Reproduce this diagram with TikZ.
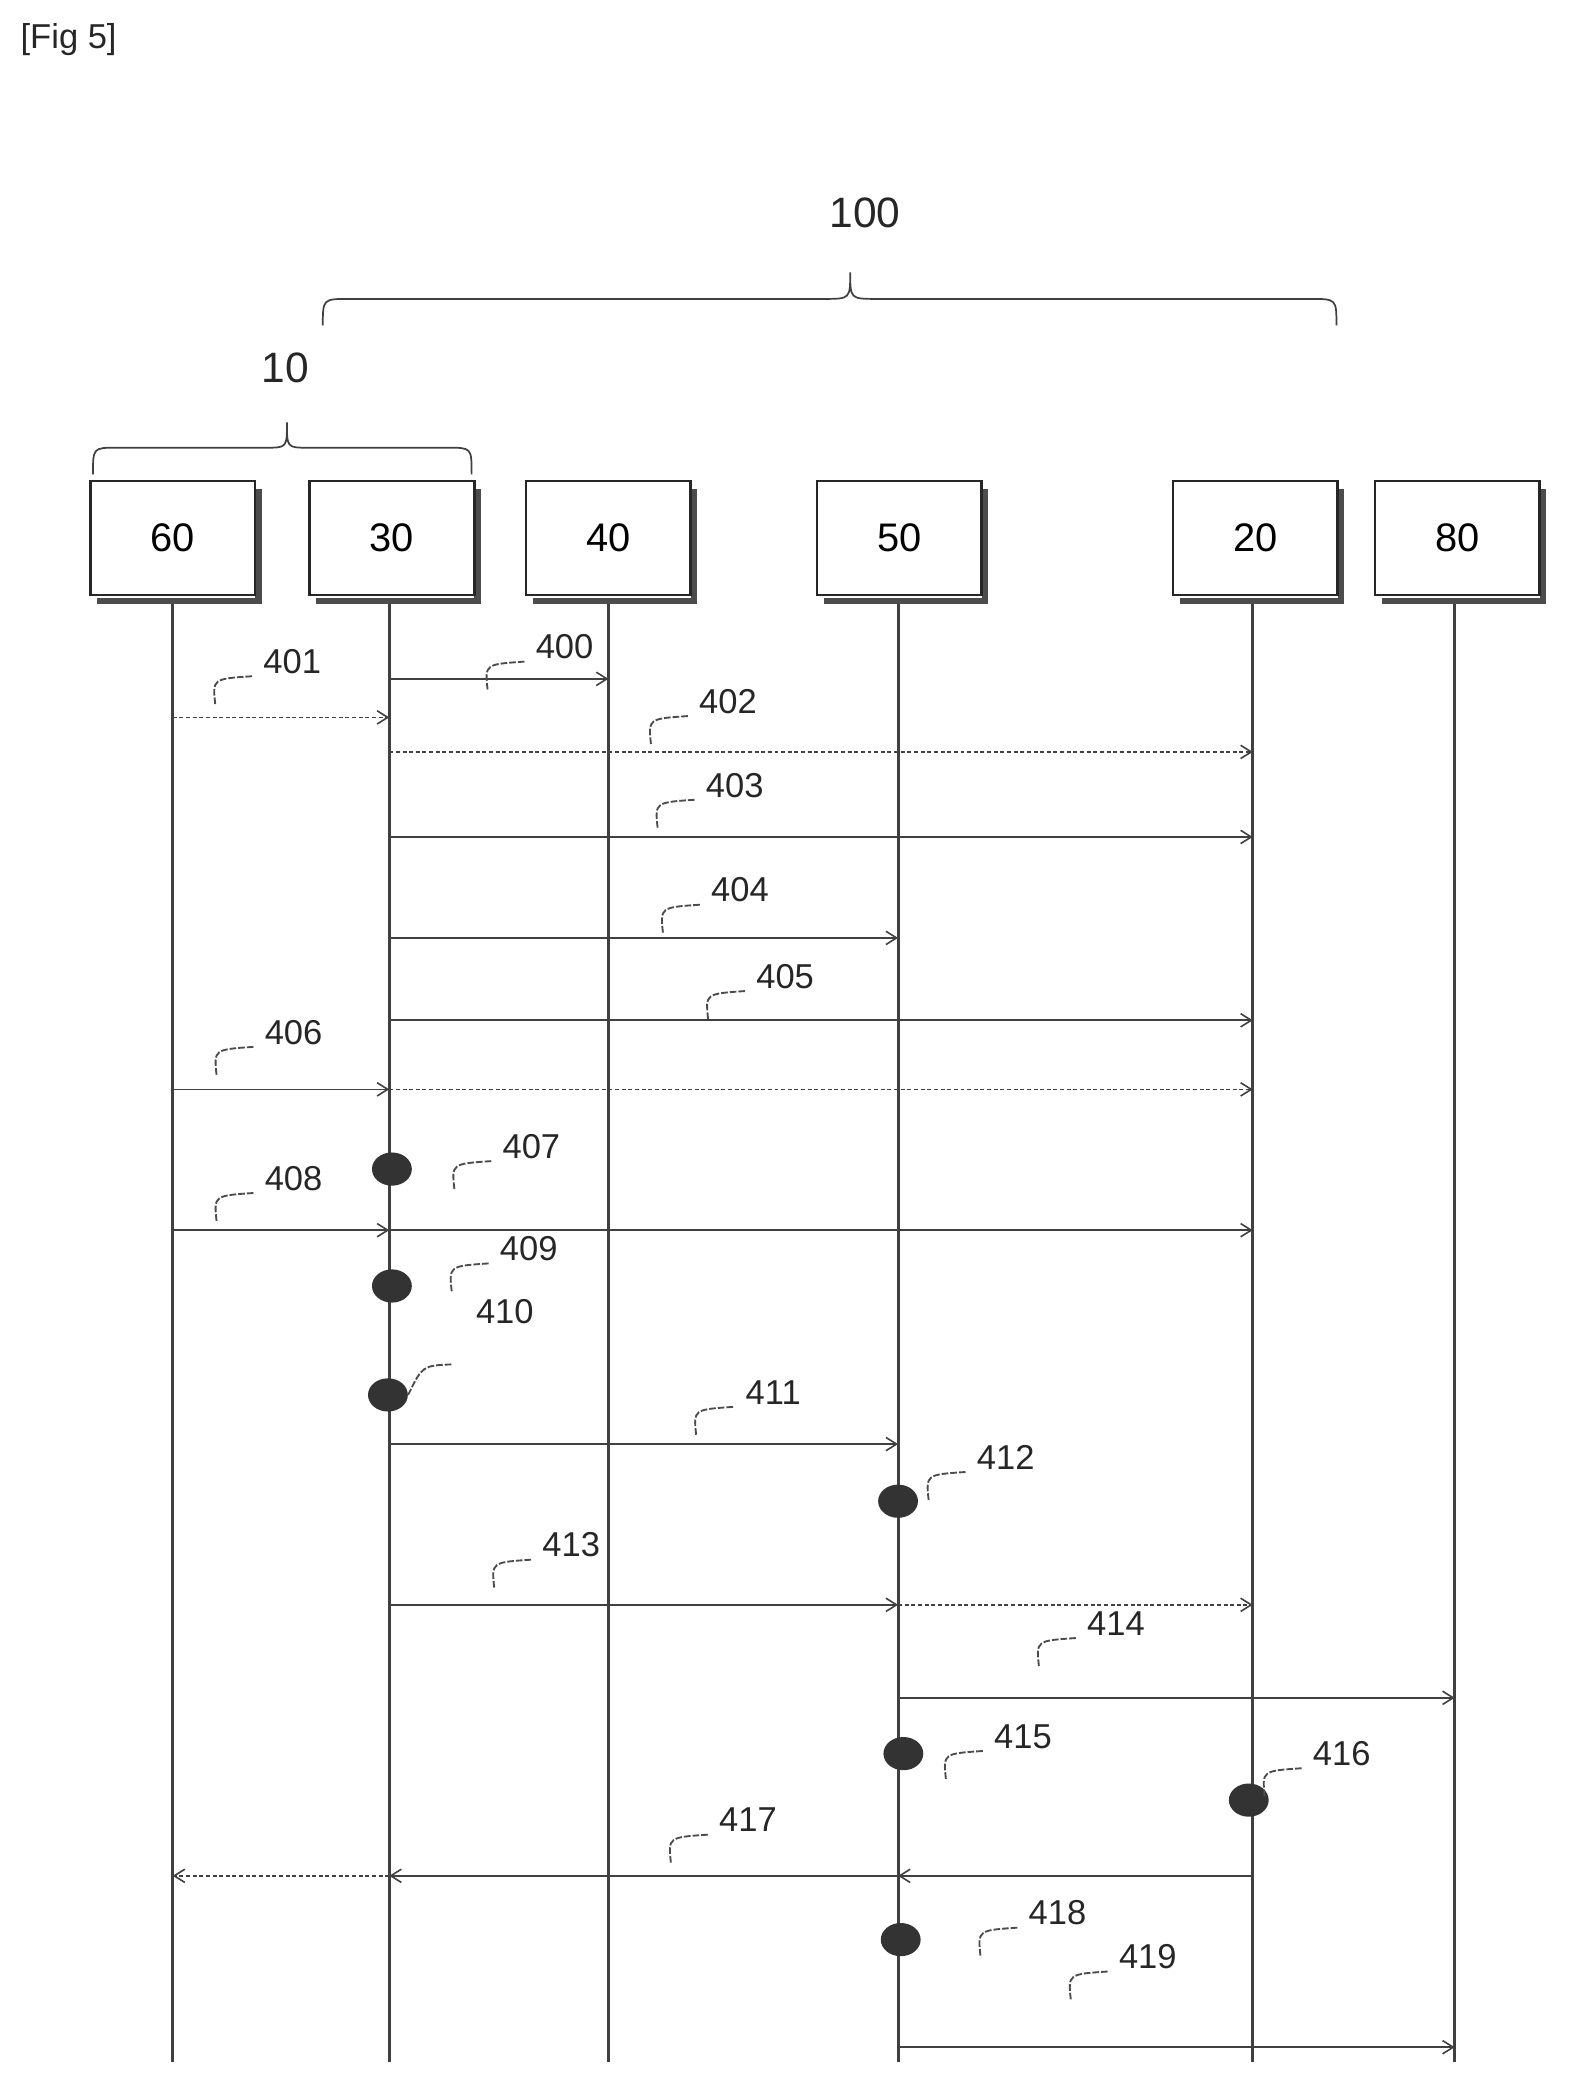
\documentclass[tikz,border=0pt]{standalone}
\usepackage{fontspec}
\setmainfont{Liberation Sans}
\usetikzlibrary{arrows.meta,shapes.geometric}
\begin{document}
\begin{tikzpicture}[x=1pt,y=-1pt,
  box/.style={draw=black!85,line width=2pt,fill=white,minimum width=124pt,minimum height=86pt,font=\fontsize{30}{30}\selectfont},
  shadow/.style={draw=black!70,line width=5pt},
  life/.style={line width=2.2pt,draw=black!75},
  msg/.style={line width=1.2pt,draw=black!75,-{Straight Barb[length=8pt,width=10pt]}},
  dmsg/.style={msg,dash pattern=on 3pt off 2pt},
  lbl/.style={font=\fontsize{26}{26}\selectfont,text=black!85},
  lead/.style={line width=1.4pt,draw=black!70,dash pattern=on 5pt off 1.5pt},
  dot/.style={ellipse,fill=black!80,minimum width=30pt,minimum height=25pt,inner sep=0pt}]
\useasboundingbox (0,0) rectangle (1188,1580);
\node[lbl,anchor=west] (fig) at (12,30) {[Fig 5]};
\foreach \n/\x in {60/130,30/293,40/458,50/676,20/943,80/1095}{
  \coordinate (t\n) at (\x,452);
  \coordinate (b\n) at (\x,1552);
  \draw[life] (t\n) -- (b\n);
}
\foreach \n/\x in {60/130,30/295,40/458,50/677,20/945,80/1097}{
  \draw[shadow] (\x+64.5,368) -- (\x+64.5,452.5) -- (\x-57,452.5);
  \node[box] (box\n) at (\x,405) {\n};
}
\draw[line width=1.3pt,black!75] (243,245) .. controls (243,225) .. (263,225) -- (620,225) .. controls (640,225) .. (640,205) .. controls (640,225) .. (660,225) -- (986,225) .. controls (1006,225) .. (1006,245);
\node[lbl,font=\fontsize{32}{32}\selectfont] (l100) at (651,160) {100};
\draw[line width=1.3pt,black!75] (70,357) .. controls (70,337) .. (88,337) -- (200,337) .. controls (216,337) .. (216,318) .. controls (216,337) .. (232,337) -- (337,337) .. controls (355,337) .. (355,357);
\node[lbl,font=\fontsize{32}{32}\selectfont] (l10) at (215,277) {10};
\newcommand{\msgline}[5]{%
  \coordinate (#5a) at (#2,#4); \coordinate (#5b) at (#3,#4);
  \draw[#1] (#5a) -- (#5b);}
\newcommand{\lab}[3]{%
  \node[lbl] (n#1) at (#2,#3) {#1};
  \draw[lead] (#2-58,#3+32) .. controls (#2-60,#3+13) .. (#2-30,#3+11);}
\msgline{msg}{293}{458}{511}{m400} \lab{400}{425}{487}
\msgline{dmsg}{130}{293}{540}{m401} \lab{401}{220}{498}
\msgline{dmsg}{293}{943}{566}{m402} \lab{402}{548}{528}
\msgline{msg}{293}{943}{630}{m403} \lab{403}{553}{591}
\msgline{msg}{293}{676}{706}{m404} \lab{404}{557}{670}
\msgline{msg}{293}{943}{768}{m405} \lab{405}{591}{735}
\msgline{msg}{130}{293}{820}{m406} \msgline{dmsg}{293}{943}{820}{m406b} \lab{406}{221}{777}
\node[dot] (d407) at (295,880) {}; \lab{407}{400}{863}
\msgline{msg}{130}{293}{926}{m408} \msgline{msg}{293}{943}{926}{m408b} \lab{408}{221}{887}
\node[dot] (d409) at (295,968) {}; \lab{409}{398}{940}
\node[lbl] (n410) at (380,987) {410};
\node[dot] (d410) at (292,1050) {};
\draw[lead] (d410.east) .. controls (318,1028) .. (340,1027);
\msgline{msg}{293}{676}{1087}{m411} \lab{411}{582}{1048}
\node[dot] (d412) at (676,1130) {}; \lab{412}{757}{1097}
\msgline{msg}{293}{676}{1208}{m413} \msgline{dmsg}{676}{943}{1208}{m413b} \lab{413}{430}{1163}
\msgline{msg}{676}{1095}{1278}{m414} \lab{414}{840}{1222}
\node[dot] (d415) at (680,1320) {}; \lab{415}{770}{1307}
\node[dot] (d416) at (940,1355) {}; \lab{416}{1010}{1320}
\msgline{msg}{943}{676}{1412}{m417} \msgline{msg}{676}{293}{1412}{m417b} \msgline{dmsg}{293}{130}{1412}{m417c} \lab{417}{563}{1370}
\node[dot] (d418) at (678,1460) {}; \lab{418}{796}{1440}
\msgline{msg}{676}{1095}{1541}{m419} \lab{419}{864}{1473}
\end{tikzpicture}
\end{document}
